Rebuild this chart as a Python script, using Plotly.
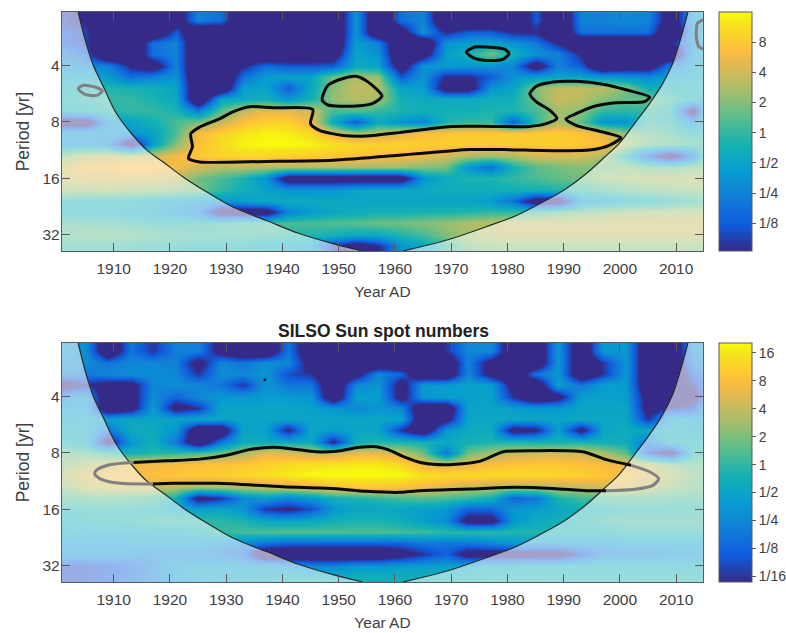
import plotly.graph_objects as go

years = [1901,1905,1909,1913,1917,1921,1925,1929,1933,1937,1941,1945,1949,1953,1957,1961,1965,1969,1973,1977,1981,1985,1989,1993,1997,2001,2005,2009,2013,2015]
log2_period = [1.0,1.2,1.4,1.6,1.8,2.0,2.2,2.4,2.6,2.8,3.0,3.2,3.4,3.6,3.8,4.0,4.2,4.4,4.6,4.8,5.0,5.2,5.4]

# log2 of wavelet power, top panel (rows = period, columns = year)
top_a = [-3.5,-4,-6,-6,-6,-5,-2,-2.5,-6,-6,-4,-6,-6,-1.5,-6,-2.5,-2,-6,-6,-6,-6,-3,-6,-2,-2,-1.8,-2,-5,-1.5,-1]
top_z = [
 top_a,
 top_a,
 [-3,-3.5,-6,-6,-6,-3,-6,-6,-6,-6,-6,-6,-6,-1.5,-6,-5,-1.5,-4,-3,-3,-4,-4,-6,-2.5,-2.5,-2.5,-2.5,-6,-1.5,-1],
 [-3,-3.5,-6,-6,-2.5,-2,-6,-6,-6,-6,-6,-6,-6,-1.2,-2,-6,-6,-1.5,-1.2,-1,-1.5,-2.2,-4,-6,-6,-6,-6,-4,-1.5,-1.2],
 [-2,-3,-6,-6,-2.5,-2,-6,-6,-6,-6,-6,-6,-5,-1,-1.5,-6,-5,-1.2,-0.5,0.8,-0.5,-1.5,-2,-4,-6,-6,-6,-6,-1.2,-1],
 [-1.5,-1.8,-2,-4,-5,-2,-6,-6,-4,-2.5,-3,-3,-3,-0.8,-1,-5,-1.5,-1.3,-1.5,-1.5,-2,-5,-2,-3,-6,-5,-5,-2,-1,-1],
 [-1,-0.8,-1.2,-2.5,-2,-1.5,-6,-6,-2.5,-1.2,-1,-1,0.8,1.5,1.2,-3,-1.5,-4,-4,-3,-1.5,-1.2,-1,-1,-1.2,-1.5,-1.8,-1,-0.8,-0.8],
 [-0.5,-0.2,-0.2,-0.4,-0.5,-1,-6,-6,-1.2,-1,-3,-0.8,1,1.8,1.6,-1,-1.2,-5,-5,-1.5,-1,1,1.8,1.8,1.6,1,-0.5,-0.5,-0.5,-0.5],
 [-0.3,-0.2,0,0,-0.3,-0.8,-6,-1,-0.8,-0.5,-1.5,-0.5,1.2,1.6,1.4,-0.5,-0.7,-0.8,-0.8,-0.6,-0.5,0.8,1.9,1.7,1,0.6,0.7,0,-0.5,-0.8],
 [-0.8,-0.5,-0.2,0,0,-0.3,-2,0.5,1.8,2.4,2.3,2,0.2,0.4,0,-0.3,-0.5,-0.5,-0.5,-0.3,-0.3,0.2,1.4,1,0,-0.1,0,-0.3,-5,-1],
 [-5,-5,-1.5,-1,-0.5,0.3,0.8,1.8,2.8,3.2,3.2,2.5,-0.8,-3,-0.8,-1.5,-2,-0.3,0,0,-3,0,1.5,0.6,-1.5,-1.5,0,-0.2,-1.8,-0.5],
 [-1.2,-1.2,-1.5,-1.5,-1,0.3,2.6,3.2,3.6,3.9,3.8,3.4,2.2,1.3,1.6,2.2,2.7,2.9,3,3,3,3,3.1,2.9,2.3,1,0.6,0.2,-0.3,-0.3],
 [-1.5,-1.5,-1.8,-5,-1.2,1,2.8,3.4,3.9,4,4,3.9,3.6,3.3,3.2,3.2,3.1,3.1,3.1,3.1,3.1,3.1,3.1,3,2.8,1.4,0.8,0.5,0.2,0.2],
 [1,1.5,1.8,1.8,2,2.5,3,3.2,3.3,3.3,3.2,3.1,3,2.9,2.8,2.6,2.4,2,1.5,1.2,1.5,2,2,2,1.5,-0.5,-3,-5,-2.5,0],
 [2,2.5,2.6,2.7,2.7,2.6,2,1.6,1.6,1.5,1.5,1.5,1.5,1.4,1.3,1.3,1,0.8,-1.5,-2.5,-0.5,0.5,0.8,1,0.8,1,0.5,0.5,0.8,1],
 [1.8,2,2,2,2,1.8,0.8,0.3,-0.3,-1.5,-5,-5,-5,-5,-5,-5,-1.5,-0.7,-0.3,-0.3,0,0.3,0.6,0.8,1.2,1.3,1.5,1.5,1.5,1.5],
 [1.2,1.2,1.3,1.2,1,1,0.8,0,-0.5,-1,-1.5,-1.5,-1.5,-1,-0.8,-0.8,-0.8,-0.6,-0.6,-0.6,-0.5,-0.5,-0.3,-0.1,0.2,0.5,0.7,0.8,1,1],
 [-0.4,-0.5,-0.5,-0.6,-0.8,-1,-1.3,-1.5,-1.2,-0.8,-0.7,-0.7,-0.8,-0.9,-0.9,-0.9,-1,-1,-1,-1.3,-2.5,-5,-5,-1.5,-1.2,-0.8,-0.6,-0.3,0,0.2],
 [-0.6,-0.6,-0.7,-0.8,-1,-1.5,-2,-5,-5,-5,-2,-1.3,-0.9,-0.7,-0.5,-0.5,-0.4,-0.3,-0.2,0,0,0.2,0.5,0.8,1,1.2,1.3,1.4,1.4,1.4],
 [0.2,0.2,0.2,0,-0.2,-0.2,-0.2,0,0.2,0.3,0.3,0.3,0.4,0.5,0.7,0.8,1,1.2,1.5,1.7,1.8,1.8,1.8,1.8,1.8,1.9,1.9,1.9,1.9,1.9],
 [0.5,0.6,0.6,0.5,0.3,0.2,0.1,0.1,0.1,0,-0.1,-0.3,-0.5,-0.8,-0.8,-0.3,0.2,1,1.4,1.6,1.7,1.7,1.7,1.7,1.7,1.7,1.7,1.7,1.7,1.7],
 [0,0,0,-0.1,-0.2,-0.3,-0.4,-0.5,-0.5,-0.6,-0.8,-1.2,-3.5,-5,-4,-1.5,-1,0,0.8,1,1,1,1,1,1,1,1,1,1,1],
 [0,0,0,-0.1,-0.2,-0.3,-0.4,-0.5,-0.5,-0.6,-0.8,-1.2,-3.5,-5,-4,-1.5,-1,0,0.8,1,1,1,1,1,1,1,1,1,1,1],
]

# log2 of wavelet power, bottom panel
bot_a = [-1.5,-1.8,-6,-2.5,-4,-2.2,-2.2,-5,-6,-6,-2.5,-6,-6,-6,-6,-6,-6,-4,-2,-2,-6,-6,-1.5,-6,-1.5,-1.5,-6,-6,-1.8,-1.5]
bot_z = [
 bot_a,
 bot_a,
 [-1.6,-1.8,-2.5,-2,-2,-2.2,-5,-2,-2.5,-1.8,-2,-5,-6,-6,-6,-6,-6,-6,-2.2,-5,-6,-6,-1.5,-6,-4,-1.5,-6,-6,-2.2,-2],
 [-2.2,-2.5,-2,-1.8,-1.8,-2,-4,-1.8,-2,-1.5,-3.5,-4,-6,-5,-2,-3,-6,-6,-2,-5,-6,-2.5,-1.5,-6,-4,-1.5,-6,-6,-3,-2.5],
 [-5,-4,-5,-5,-2,-1.8,-2,-2.5,-4,-1.5,-2.5,-2.5,-6,-2,-1.5,-5,-1.5,-1.3,-1.2,-1.2,-5,-6,-1.2,-2.5,-1.2,-1.3,-6,-4.5,-4,-2.5],
 [-2,-1.5,-6,-5,-1.8,-3,-2,-1.5,-1.5,-1.3,-1.3,-1.5,-6,-1.2,-1.2,-5,-1.5,-1.2,-1.2,-1.2,-4,-6,-5,-1.2,-1.2,-1.3,-5,-6,-5,-3],
 [-1.5,-1.3,-6,-5,-1.3,-5,-4,-1,-1,-1,-1,-1.2,-1.5,-2,-1.5,-2,-6,-6,-1.1,-1,-1.2,-1.5,-1.5,-1,-1,-1,-5,-4,-3.5,-1.8],
 [-1,-0.9,-1.2,-1,-1,-1,-1,-1,-1,-1,-1,-1,-1,-1,-1,-1,-6,-5,-1,-0.9,-0.9,-1,-1,-0.9,-0.9,-0.9,-4,-1,-1.2,-1.2],
 [-0.9,-0.9,-2.5,-0.7,-0.8,-1.5,-6,-6,-1,-1.2,-4.5,-1,-1.2,-1,-1,-4,-6,-1.5,-0.8,-0.7,-5,-4.5,-1.2,-5,-1,-0.7,-0.8,-0.8,-1,-1],
 [-0.5,-0.8,-5,-1.5,-0.5,-2.5,-6,-2.5,-0.7,-0.7,-0.7,-0.8,-4.5,-0.7,-0.3,-0.3,-0.5,-0.8,-0.5,-0.3,-0.3,-0.4,-0.4,-0.3,-0.5,-0.7,-2.5,-0.5,-0.5,-0.5],
 [0.8,0.5,0,-0.5,-0.2,0,0.3,0.8,1.6,2.6,2.4,2,2.1,2.6,2.6,2,0.8,-2.5,0.8,1.5,2,2.2,2.2,2.2,1.6,0.6,-3.5,-5,-0.3,-0.2],
 [1,1.6,2,2.6,2.8,2.9,3,3.1,3.2,3.4,3.7,3.8,3.9,4,4,3.7,2.6,2.3,2.6,3,3.1,3.2,3.2,3.1,2.9,2.6,1.8,1,0.6,0.5],
 [1.6,2.3,2.7,2.9,3,3.2,3.3,3.4,3.6,3.8,4.1,4.3,4.4,4.4,4.4,4.3,3.9,3.7,3.7,3.7,3.7,3.7,3.6,3.5,3.2,2.8,2.3,1.6,1,0.8],
 [1.2,1.8,2.2,2.2,2.2,1.8,1.5,1.5,1.8,2,2.2,2.6,3,3.2,3.2,3,2.8,2.4,2,1.8,1.6,1.6,1.8,2,2.2,2.2,1.8,1.2,0.8,0.6],
 [0.3,0.5,0.6,0.5,0.2,-0.5,-5,-4,-2,-1.3,-2,-1.5,-0.6,-0.3,0,0.3,0.5,0.3,0,-0.5,-3,-2.5,-0.3,0.2,0.3,0.4,0.4,0.3,0.2,0.2],
 [-0.3,-0.2,-0.2,-0.3,-0.4,-1,-1.2,-1,-1.5,-4,-4.5,-3.5,-1.5,-1,-1,-1,-1.2,-1.5,-3,-3,-1.5,-1.2,-1,-0.6,-0.4,-0.2,-0.2,-0.2,-0.2,-0.2],
 [-0.6,-0.5,-0.4,-0.3,0,0.1,0,0,-0.3,-0.8,-1,-0.8,-0.5,-0.3,-0.3,-0.6,-1.2,-1.8,-5,-5,-1.5,-0.8,-0.5,-0.3,0,0.2,0.2,0.2,0.2,0.2],
 [-1,-1,-1,-1,-0.8,-0.8,-0.6,0,0.3,0.4,0.5,0.5,0.4,0.4,0.4,0.3,0.2,0,0,0,-0.2,-0.2,-0.5,-0.5,-0.5,-0.3,-0.3,-0.3,-0.3,-0.3],
 [-1.5,-1.5,-1.4,-1.3,-1.2,-1.2,-1.2,-1.5,-2,-2.5,-3,-3,-3,-3,-3,-3,-2.5,-2.5,-2.5,-2,-1.5,-1.5,-1.5,-1.4,-1.4,-1.3,-1.2,-1.2,-1.2,-1.2],
 [-1.6,-1.6,-1.7,-1.8,-2,-2,-2,-2.2,-2.8,-6,-6,-6,-6,-6,-6,-5,-4,-3,-5,-5,-5,-5,-5,-3.5,-2.2,-2,-2,-1.8,-1.6,-1.5],
 [-3.6,-3.6,-3.4,-3,-2.2,-1.3,-1.2,-1.2,-1.2,-1.3,-1.5,-2,-2,-1.5,-1.5,-1.3,-1.3,-1.2,-1,-0.7,-0.7,-0.6,-0.5,-0.5,-0.5,-0.5,-0.6,-0.7,-0.7,-0.7],
 [-3.5,-3.5,-3.2,-2.8,-2.2,-1.5,-1.2,-1,-1,-0.8,-0.7,-0.7,-0.6,-0.6,-0.6,-0.6,-0.5,-0.5,-0.4,-0.3,-0.3,-0.3,-0.3,-0.3,-0.3,-0.3,-0.3,-0.3,-0.3,-0.3],
 [-3.5,-3.5,-3.2,-2.8,-2.2,-1.5,-1.2,-1,-1,-0.8,-0.7,-0.7,-0.6,-0.6,-0.6,-0.6,-0.5,-0.5,-0.4,-0.3,-0.3,-0.3,-0.3,-0.3,-0.3,-0.3,-0.3,-0.3,-0.3,-0.3],
]

# Cone of influence (year, log2 period)
coi_left_x = [1903.7,1904.9,1906.4,1908.2,1910.5,1913.2,1915.9,1918.8,1922.4,1926.5,1931.2,1937.2,1943,1949,1954.3]
coi_left_y = [1.05,1.53,2,2.38,2.85,3.21,3.5,3.71,3.98,4.24,4.51,4.75,4.98,5.16,5.29]
coi_right_x = [2012.1,2010.9,2009.4,2007.6,2005.3,2002.6,1999.9,1997,1994,1990.5,1986.9,1981.6,1976.2,1969.1,1961.4]
coi_right_y = [1.05,1.49,1.96,2.32,2.67,3.03,3.38,3.65,3.92,4.18,4.39,4.66,4.86,5.1,5.29]
year_range = [1900.8, 2014.8]
period_range = [5.29, 1.05]

# Top panel significance contours
t_main_x = [1923.3,1924,1923.7,1925.3,1928.9,1931.2,1934.2,1938.3,1945.4,1945,1946.6,1950.8,1954.9,1960.8,1970,1977.4,1983.9,1986.9,1988.8,1987.5,1985.1,1984,1985.1,1988.1,1992.2,1997,2001.1,2005.3,2004.4,1999.3,1995.2,1992.3,1990.4,1992.2,1997,2000.2,1998.2,1994.6,1988.1,1979.2,1973.3,1964.4,1960.8,1949,1937.2,1925.3,1923.3]
t_main_y = [3.65,3.44,3.21,3.09,2.94,2.82,2.73,2.75,2.78,3.03,3.15,3.24,3.25,3.19,3.08,3.08,3.08,3.03,2.94,2.79,2.64,2.5,2.37,2.29,2.28,2.33,2.43,2.56,2.64,2.66,2.73,2.85,2.95,3.06,3.18,3.28,3.41,3.5,3.51,3.49,3.49,3.56,3.59,3.68,3.7,3.71,3.65]
t_c2_x = [1947.1,1948.1,1950.8,1953.1,1955.2,1957.7,1956.1,1952.5,1948.1,1947.1,1947.1]
t_c2_y = [2.56,2.35,2.23,2.19,2.29,2.54,2.67,2.72,2.7,2.62,2.56]
t_c3_x = [1972.7,1974.2,1976.2,1979.5,1980.3,1979.2,1976.2,1973.9,1972.7]
t_c3_y = [1.76,1.67,1.67,1.71,1.79,1.89,1.91,1.86,1.76]
t_g1_x = [1903.7,1904.6,1906.7,1908,1907,1904.9,1903.7]
t_g1_y = [2.41,2.35,2.38,2.45,2.53,2.51,2.41]
t_g2_x = [2015.2,2013.8,2013.6,2014.1,2015.2]
t_g2_y = [1.17,1.25,1.49,1.67,1.72]

# Bottom panel significance contours
b_up_x = [1913.5,1919.4,1925.3,1930.1,1934.2,1938.3,1941.9,1946,1949.6,1953.7,1956.7,1959,1961.4,1965,1969.7,1975,1979.3,1985.2,1993.4,1997.6,2002]
b_up_y = [3.17,3.14,3.11,3.04,2.94,2.9,2.93,2.98,2.97,2.9,2.89,2.95,3.06,3.18,3.21,3.15,2.98,2.96,2.98,3.12,3.22]
b_lo_x = [1917,1920.6,1928.3,1940.1,1949,1954.9,1960.8,1964.4,1973.3,1981,1988.1,1994,1997.6]
b_lo_y = [3.55,3.54,3.54,3.6,3.63,3.68,3.7,3.67,3.64,3.61,3.63,3.67,3.67]
b_gl_x = [1913.5,1909.3,1907,1906.6,1907.6,1911.1,1917]
b_gl_y = [3.17,3.21,3.3,3.37,3.46,3.54,3.55]
b_gr_x = [2002,2005.2,2006.9,2005.8,2002.3,1997.6]
b_gr_y = [3.22,3.33,3.46,3.58,3.65,3.67]
b_dot_x = [1936.9]
b_dot_y = [1.70]

parula = [[0,"rgb(53,42,135)"],[0.111,"rgb(15,92,221)"],[0.222,"rgb(18,125,216)"],[0.333,"rgb(7,156,207)"],
          [0.444,"rgb(21,177,180)"],[0.556,"rgb(89,189,140)"],[0.667,"rgb(165,190,107)"],[0.778,"rgb(225,185,82)"],
          [0.841,"rgb(253,190,61)"],[0.889,"rgb(252,206,46)"],[0.952,"rgb(245,228,29)"],[1,"rgb(249,251,14)"]]

TXT = "#404040"
LINE = "#5a5a5a"
FONT = "Liberation Sans, Arial, sans-serif"

fig = go.Figure()

def panel(z, xa, ya, cb_y, cb_len, zmin, zmax, cb_vals, cb_text):
    fig.add_trace(go.Heatmap(x=years, y=log2_period, z=z, xaxis=xa, yaxis=ya, zmin=zmin, zmax=zmax,
                             zsmooth="best", colorscale=parula, hoverinfo="skip",
                             colorbar=dict(x=719/786, xanchor="left", xpad=0, y=cb_y, yanchor="top", ypad=0,
                                           lenmode="pixels", len=cb_len, thickness=33, thicknessmode="pixels",
                                           outlinecolor=LINE, outlinewidth=1, tickvals=cb_vals, ticktext=cb_text,
                                           ticks="outside", ticklen=4, tickcolor=LINE,
                                           tickfont=dict(family=FONT, size=14, color=TXT))))
    for cx, cy, corner in ((coi_left_x, coi_left_y, year_range[0]), (coi_right_x, coi_right_y, year_range[1] + 1)):
        fig.add_trace(go.Scatter(x=cx + [corner, corner], y=cy + [period_range[0], period_range[1]],
                                 xaxis=xa, yaxis=ya, mode="lines", fill="toself",
                                 fillcolor="rgba(255,255,255,0.55)", line=dict(width=0), hoverinfo="skip"))
        fig.add_trace(go.Scatter(x=cx, y=cy, xaxis=xa, yaxis=ya, mode="lines", hoverinfo="skip",
                                 line=dict(color="#1c2b2b", width=1.2, shape="spline", smoothing=1)))

def contour(xs, ys, xa, ya, color):
    fig.add_trace(go.Scatter(x=xs, y=ys, xaxis=xa, yaxis=ya, mode="lines", hoverinfo="skip",
                             line=dict(color=color, width=3, shape="spline", smoothing=0.7)))

panel(top_z, "x", "y", 1 - 12/633, 239, -3.92, 4, [-3,-2,-1,0,1,2,3], ["1/8","1/4","1/2","1","2","4","8"])
panel(bot_z, "x2", "y2", 1 - 343/633, 239, -4.2, 4.35, [-4,-3,-2,-1,0,1,2,3,4],
      ["1/16","1/8","1/4","1/2","1","2","4","8","16"])

for xs, ys in ((t_main_x, t_main_y), (t_c2_x, t_c2_y), (t_c3_x, t_c3_y)):
    contour(xs, ys, "x", "y", "#0a0a0a")
for xs, ys in ((t_g1_x, t_g1_y), (t_g2_x, t_g2_y)):
    contour(xs, ys, "x", "y", "#808080")
for xs, ys in ((b_up_x, b_up_y), (b_lo_x, b_lo_y)):
    contour(xs, ys, "x2", "y2", "#0a0a0a")
for xs, ys in ((b_gl_x, b_gl_y), (b_gr_x, b_gr_y)):
    contour(xs, ys, "x2", "y2", "#808080")
fig.add_trace(go.Scatter(x=b_dot_x, y=b_dot_y, xaxis="x2", yaxis="y2", mode="markers", hoverinfo="skip",
                         marker=dict(color="#111111", size=3)))

xtickvals = [1910,1920,1930,1940,1950,1960,1970,1980,1990,2000,2010]
ytickvals = [2,3,4,5]
yticktext = ["4","8","16","32"]

def xaxis(anchor):
    return dict(domain=[62/786, 704/786], range=year_range, anchor=anchor, tickvals=xtickvals,
                ticks="inside", ticklen=8, tickcolor=LINE, tickwidth=1, showgrid=False, zeroline=False,
                mirror="ticks", showline=True, linecolor=LINE, linewidth=1.2, ticklabelstandoff=3,
                tickfont=dict(family=FONT, size=15.5, color=TXT),
                title=dict(text="Year AD", font=dict(family=FONT, size=15.5, color=TXT), standoff=10))

def yaxis(anchor, top, bottom):
    return dict(domain=[1 - bottom/633, 1 - top/633], range=period_range, anchor=anchor, tickvals=ytickvals,
                ticktext=yticktext, ticks="inside", ticklen=8, tickcolor=LINE, tickwidth=1, showgrid=False,
                zeroline=False, mirror="ticks", showline=True, linecolor=LINE, linewidth=1.2, ticklabelstandoff=-2,
                tickfont=dict(family=FONT, size=15.5, color=TXT),
                title=dict(text="Period [yr]", font=dict(family=FONT, size=17.5, color=TXT), standoff=8))

fig.update_layout(
    width=786, height=633, margin=dict(l=0, r=0, t=0, b=0), showlegend=False,
    paper_bgcolor="white", plot_bgcolor="white",
    xaxis=xaxis("y"), yaxis=yaxis("x", 12, 251),
    xaxis2=xaxis("y2"), yaxis2=yaxis("x2", 343, 582),
    annotations=[dict(text="<b>SILSO Sun spot numbers</b>", x=384/786, y=1 - 331/633, xref="paper", yref="paper",
                      xanchor="center", yanchor="middle", showarrow=False,
                      font=dict(family=FONT, size=17.5, color="#222222"))],
)

fig.write_html("out.html", post_script="document.body.style.margin='0';", config={"displayModeBar": False})
